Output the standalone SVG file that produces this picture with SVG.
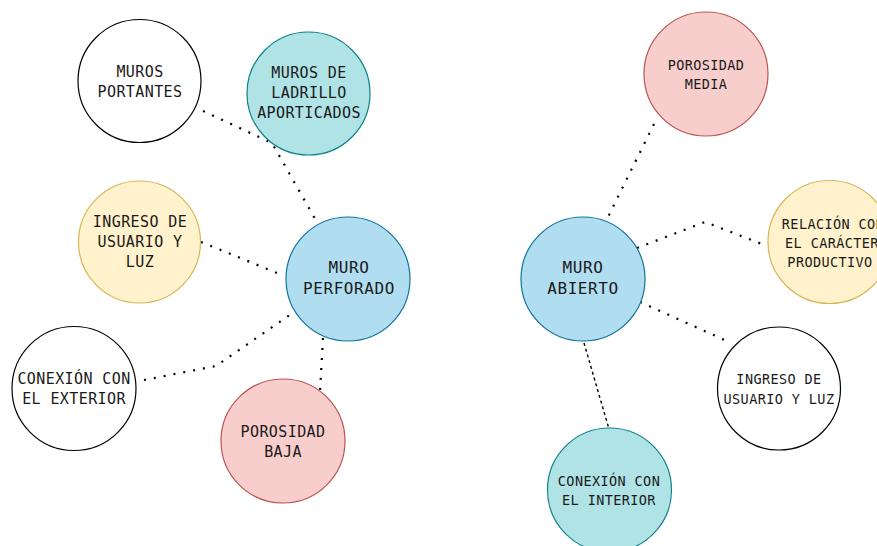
<svg xmlns="http://www.w3.org/2000/svg" width="877" height="546" viewBox="0 0 877 546">
<style>
.n{stroke-width:1.2}
.w{fill:#ffffff;stroke:#000000}
.b{fill:#b1ddf0;stroke:#10739e}
.t{fill:#b0e3e6;stroke:#0e8088}
.y{fill:#fff2cc;stroke:#d6b656}
.r{fill:#f8cecc;stroke:#b85450}
text{font-family:"DejaVu Sans Mono","Liberation Mono",monospace;fill:#1a1a1a;text-anchor:middle}
.l{font-size:15px;letter-spacing:0.4px}
.s{font-size:13.5px;letter-spacing:0.4px}
.m{font-size:16px;letter-spacing:0.6px}
.dot{fill:none;stroke:#000;stroke-width:2.2;stroke-dasharray:2 8}
.dash{fill:none;stroke:#000;stroke-width:1.4;stroke-dasharray:3 3}
</style>
<rect width="877" height="546" fill="#ffffff"/>
<g id="connectors">
<polyline class="dot" points="203,111 272,143 318,224"/>
<polyline class="dot" points="201,242 282,275"/>
<polyline class="dot" points="144,380 216,366 294,312"/>
<polyline class="dot" points="323,338 320,391"/>
<polyline class="dot" points="654,124 607,219"/>
<polyline class="dot" points="637,248 705,222 767,246"/>
<polyline class="dot" points="640,302 729,342"/>
<polyline class="dash" points="584,343 609,429"/>
</g>
<g id="muros-portantes">
<circle class="n w" cx="139.5" cy="81" r="61.5"/>
<text class="l" x="140" y="77">MUROS</text>
<text class="l" x="140" y="97">PORTANTES</text>
</g>
<g id="muros-ladrillo">
<circle class="n t" cx="308.5" cy="93.5" r="61.5"/>
<text class="l" x="309" y="78">MUROS DE</text>
<text class="l" x="309" y="98">LADRILLO</text>
<text class="l" x="309" y="118">APORTICADOS</text>
</g>
<g id="ingreso-izq">
<circle class="n y" cx="139.5" cy="242" r="61"/>
<text class="l" x="140" y="227">INGRESO DE</text>
<text class="l" x="140" y="247">USUARIO Y</text>
<text class="l" x="140" y="267">LUZ</text>
</g>
<g id="muro-perforado">
<circle class="n b" cx="348" cy="279" r="62"/>
<text class="m" x="349" y="273">MURO</text>
<text class="m" x="349" y="294">PERFORADO</text>
</g>
<g id="conexion-exterior">
<circle class="n w" cx="74" cy="388.5" r="62"/>
<text class="l" x="74" y="384">CONEXIÓN CON</text>
<text class="l" x="74" y="404">EL EXTERIOR</text>
</g>
<g id="porosidad-baja">
<circle class="n r" cx="283" cy="441" r="62"/>
<text class="l" x="283" y="437">POROSIDAD</text>
<text class="l" x="283" y="457">BAJA</text>
</g>
<g id="porosidad-media">
<circle class="n r" cx="706" cy="74" r="62"/>
<text class="s" x="706" y="70">POROSIDAD</text>
<text class="s" x="706" y="89">MEDIA</text>
</g>
<g id="muro-abierto">
<circle class="n b" cx="583" cy="279" r="62"/>
<text class="m" x="583" y="273">MURO</text>
<text class="m" x="583" y="294">ABIERTO</text>
</g>
<g id="relacion">
<circle class="n y" cx="829.5" cy="242" r="61.5"/>
<text class="s" x="833" y="229">RELACIÓN CON</text>
<text class="s" x="832" y="248">EL CARÁCTER</text>
<text class="s" x="830" y="267">PRODUCTIVO</text>
</g>
<g id="ingreso-der">
<circle class="n w" cx="779" cy="388.5" r="61.5"/>
<text class="s" x="779" y="384">INGRESO DE</text>
<text class="s" x="779" y="404">USUARIO Y LUZ</text>
</g>
<g id="conexion-interior">
<circle class="n t" cx="609.5" cy="490" r="62"/>
<text class="s" x="609" y="486">CONEXIÓN CON</text>
<text class="s" x="609" y="505">EL INTERIOR</text>
</g>
</svg>
